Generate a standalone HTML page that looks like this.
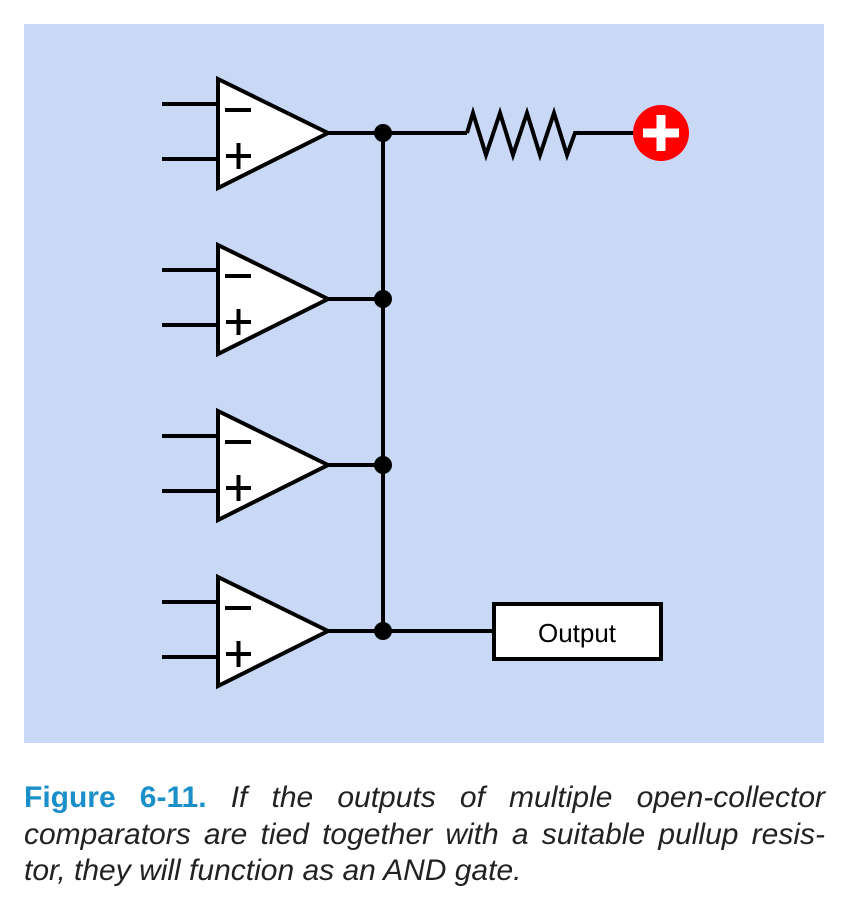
<!DOCTYPE html>
<html><head><style>
body{margin:0;width:851px;height:913px;background:#fff;overflow:hidden}
.cap{position:absolute;left:24px;top:780px;width:801px;font-family:"Liberation Sans",sans-serif;font-size:30px;line-height:36.5px;font-style:italic;color:#222}
.cap div{text-align:justify;text-align-last:justify;white-space:nowrap}
.cap div.l{text-align-last:left}
.cap b{font-style:normal;color:#1a8fc9}
</style></head><body>
<svg width="851" height="913" style="position:absolute;left:0;top:0">
<rect x="24" y="24" width="800" height="719" fill="#c8d8f5"/>
<g stroke="#000" stroke-width="4" fill="none">
<line x1="383" y1="133" x2="383" y2="631"/>
<line x1="328" y1="133" x2="467" y2="133"/>
<polyline points="467,133 473,113 486,155 500,113 513,155 527,113 540,155 554,113 567,155 575,133 635,133"/>
<line x1="328" y1="299" x2="383" y2="299"/>
<line x1="328" y1="465" x2="383" y2="465"/>
<line x1="328" y1="631" x2="493" y2="631"/>
</g>
<g id="oa">
<line x1="162" y1="104" x2="217" y2="104" stroke="#000" stroke-width="4"/>
<line x1="162" y1="159" x2="217" y2="159" stroke="#000" stroke-width="4"/>
<polygon points="218,79 328,133 218,188" fill="#fff" stroke="#000" stroke-width="4"/>
<line x1="225" y1="110" x2="251" y2="110" stroke="#000" stroke-width="4"/>
<line x1="226" y1="156" x2="251" y2="156" stroke="#000" stroke-width="4"/>
<line x1="238.5" y1="143" x2="238.5" y2="169" stroke="#000" stroke-width="4"/>
</g>
<use href="#oa" y="166"/>
<use href="#oa" y="332"/>
<use href="#oa" y="498"/>
<g fill="#000">
<circle cx="383" cy="133" r="9"/><circle cx="383" cy="299" r="9"/><circle cx="383" cy="465" r="9"/><circle cx="383" cy="631" r="9"/>
</g>
<circle cx="661" cy="133" r="28" fill="#f00"/>
<rect x="643" y="128.5" width="36" height="9" fill="#fff"/>
<rect x="656.5" y="115" width="9" height="36" fill="#fff"/>
<rect x="494" y="604" width="167" height="55" fill="#fff" stroke="#000" stroke-width="4"/>
<text x="577" y="642" font-family="Liberation Sans,sans-serif" font-size="26" text-anchor="middle" fill="#000">Output</text>
</svg>
<div class="cap">
<div><b>Figure 6-11.</b> If the outputs of multiple open-collector</div>
<div>comparators are tied together with a suitable pullup resis-</div>
<div class="l">tor, they will function as an AND gate.</div>
</div>
</body></html>
